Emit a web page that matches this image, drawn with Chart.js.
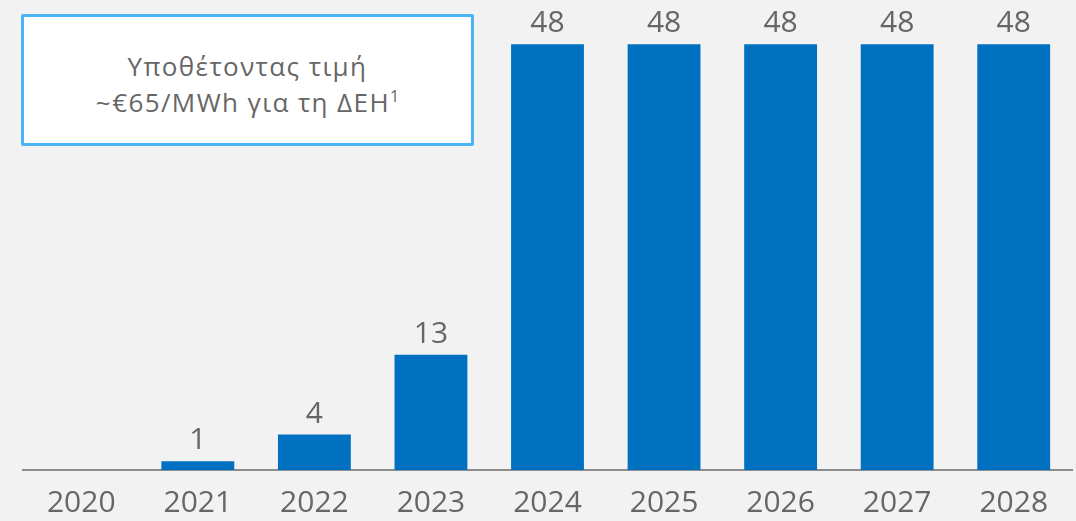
<!DOCTYPE html>
<html>
<head>
<meta charset="utf-8">
<script src="https://cdn.jsdelivr.net/npm/chart.js@4"></script>
<style>
  html, body { margin: 0; padding: 0; background: #f2f2f2; overflow: hidden; }
  #wrap { position: relative; width: 1076px; height: 521px; overflow: hidden; }
  #note {
    position: absolute; left: 21px; top: 14px;
    width: 447px; height: 126px;
    border: 3px solid #4ab2f7; border-radius: 2px;
    background: #ffffff;
    font-family: "Open Sans", sans-serif; font-size: 26px; line-height: 36px;
    letter-spacing: 1.4px;
    color: #666666; text-align: center;
  }
  #note div.inner { padding-top: 31px; }
  #note sup { font-size: 16px; line-height: 0; letter-spacing: 0; }
</style>
</head>
<body>
<div id="wrap">
  <canvas id="dehChart" width="1076" height="536"></canvas>
  <div id="note"><div class="inner">Υποθέτοντας τιμή<br>~€65/MWh για τη ΔΕΗ<sup>1</sup></div></div>
</div>
<script>
// ==========================================
// DATA
// ==========================================

const years = ["2020", "2021", "2022", "2023", "2024", "2025", "2026", "2027", "2028"];

const values = [0, 1, 4, 13, 48, 48, 48, 48, 48];

// ==========================================
// VALUE LABELS ABOVE BARS
// ==========================================

const valueLabels = {
    id: "valueLabels",
    afterDatasetsDraw(chart) {
        const ctx = chart.ctx;
        const meta = chart.getDatasetMeta(0);
        ctx.save();
        ctx.font = "30px 'Open Sans', sans-serif";
        ctx.fillStyle = "#666666";
        ctx.textAlign = "center";
        ctx.textBaseline = "alphabetic";
        meta.data.forEach((bar, i) => {
            if (!values[i]) return;
            ctx.fillText(String(values[i]), bar.x, bar.y - 12);
        });
        ctx.restore();
    }
};

// ==========================================
// BAR CHART
// ==========================================

const dehChart = document.getElementById("dehChart");

new Chart(dehChart, {

    type: "bar",

    data: {

        labels: years,

        datasets: [{

            data: values,

            backgroundColor: "#0070c0",

            borderWidth: 0,

            barPercentage: 0.625,

            categoryPercentage: 1

        }]

    },

    options: {

        responsive: false,

        animation: false,

        layout: {
            padding: { left: 23, right: 4, top: 0, bottom: 0 }
        },

        plugins: {
            legend: { display: false },
            tooltip: { enabled: false }
        },

        scales: {

            x: {
                grid: { display: false, drawTicks: false },
                border: { display: true, color: "#8c8c8c", width: 2 },
                ticks: {
                    color: "#666666",
                    padding: 15,
                    font: { family: "'Open Sans', sans-serif", size: 30 }
                }
            },

            y: {
                display: false,
                min: 0,
                max: 53
            }

        }

    },

    plugins: [valueLabels]

});
</script>
</body>
</html>
